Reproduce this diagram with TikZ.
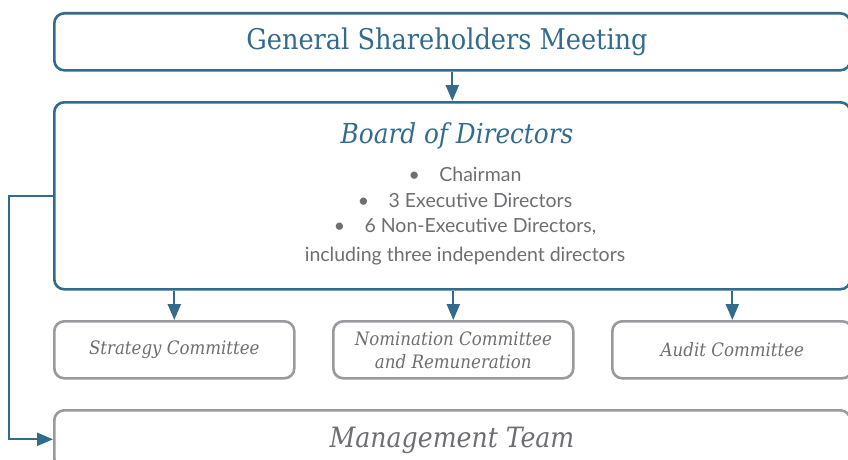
\documentclass[tikz,border=0pt]{standalone}
\usepackage{fontspec}
\setmainfont{DejaVu Serif Condensed}
\newfontfamily\listfont{Lato}
\usetikzlibrary{arrows.meta}

\definecolor{govblue}{HTML}{336B8D}
\definecolor{govgrey}{HTML}{9A9A9E}
\definecolor{textgrey}{HTML}{6D6E71}

\tikzset{
  bluebox/.style={draw=govblue, line width=2.6pt, rounded corners=10pt, anchor=north west, inner sep=0pt},
  greybox/.style={draw=govgrey, line width=2.6pt, rounded corners=10pt, anchor=north west, inner sep=0pt},
  link/.style={draw=govblue, line width=2.2pt, -{Triangle[width=13pt,length=16pt]}}
}

\begin{document}
\begin{tikzpicture}[x=1pt, y=-1pt]
          \useasboundingbox (0,0) rectangle (848,460);
          \clip (0,0) rectangle (848,460);

          % top levels
          \node[bluebox, minimum width=796pt, minimum height=57pt] (gsm) at (53,12) {};
          \node[text=govblue, font=\fontsize{28.5}{30}\selectfont] (gsmtext) at (447,42) {General Shareholders Meeting};

          \node[bluebox, minimum width=796pt, minimum height=187pt] (board) at (53,101) {};
          \node[text=govblue, font=\fontsize{27.5}{30}\selectfont\itshape] (boardtitle) at (457,136) {Board of Directors};
          \node[text=textgrey, align=center, font=\listfont\fontsize{19.5}{25.5}\selectfont] (members) at (465,216)
            {\textbullet\quad Chairman\\
             \textbullet\quad 3 Executive Directors\\
             \textbullet\quad 6 Non-Executive Directors,\\[3pt]
             including three independent directors};

          % committees
          \foreach \name/\xpos/\label in {strat/53/{Strategy Committee},
                                         nomin/332/{Nomination Committee\\and Remuneration},
                                         audit/611/{Audit Committee}}{
            \node[greybox, minimum width=240pt, minimum height=57pt, text=textgrey, align=center,
                  font=\fontsize{18.5}{23}\selectfont\itshape] (\name) at (\xpos,320) {\label};
            \draw[link] (\name.north |- board.south) -- (\name.north);
          }

          \node[greybox, minimum width=796pt, minimum height=58pt] (mgmt) at (53,409) {};
          \node[text=textgrey, font=\fontsize{28}{30}\selectfont\itshape] (mgmttext) at (452,440) {Management Team};

          % arrows
          \draw[link] (gsm.south) -- (board.north);
          \coordinate (turn) at (9,0);
          \draw[link] (board.west) -- (board.west -| turn) |- (mgmt.west);
\end{tikzpicture}
\end{document}
